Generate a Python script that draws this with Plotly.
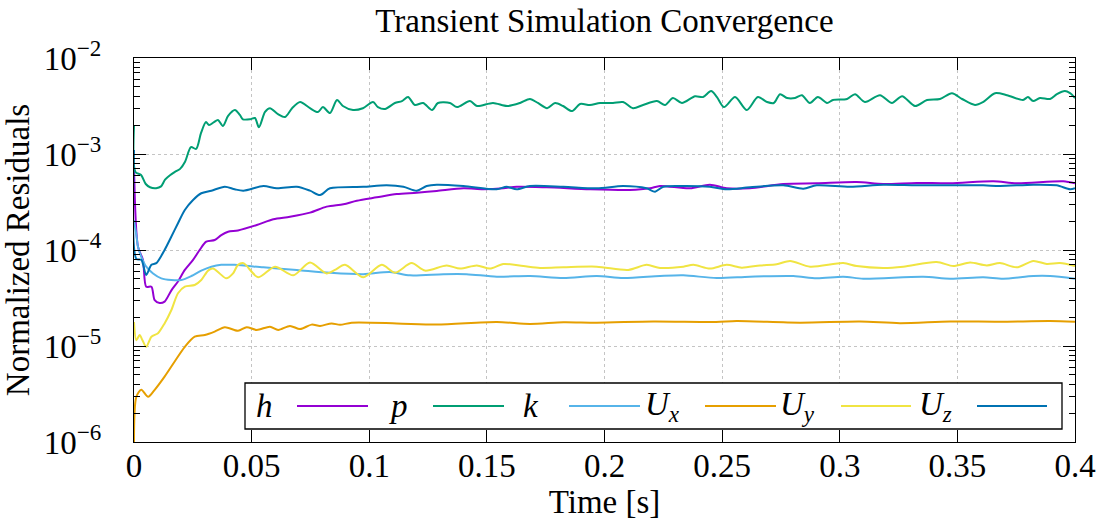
import plotly.graph_objects as go

# ---------------- data ----------------
t_h = [0, 0.0017, 0.0038, 0.0052, 0.0074, 0.0088, 0.0109, 0.013, 0.0159, 0.0187,
       0.0216, 0.0251, 0.0279, 0.0307, 0.0343, 0.0371, 0.04, 0.0442, 0.0522, 0.0592,
       0.0663, 0.0748, 0.0819, 0.089, 0.0947, 0.1032, 0.1117, 0.1202, 0.1287, 0.14,
       0.1484, 0.157, 0.1627, 0.1754, 0.1938, 0.2108, 0.2193, 0.2236, 0.2363, 0.2448,
       0.2519, 0.2618, 0.276, 0.2902, 0.3072, 0.3185, 0.3327, 0.3469, 0.3653, 0.3752,
       0.395, 0.4]
h_res = [7.5e-4, 1.08e-4, 7.9e-5, 4.15e-5, 4.15e-5, 3.0e-5, 2.8e-5, 2.9e-5, 3.8e-5, 4.7e-5,
         6.2e-5, 7.9e-5, 1.0e-4, 1.22e-4, 1.27e-4, 1.43e-4, 1.55e-4, 1.6e-4, 1.82e-4, 2.09e-4,
         2.22e-4, 2.45e-4, 2.83e-4, 3.0e-4, 3.26e-4, 3.54e-4, 3.83e-4, 3.95e-4, 4.12e-4, 4.39e-4,
         4.3e-4, 4.39e-4, 4.56e-4, 4.5e-4, 4.29e-4, 4.22e-4, 4.39e-4, 4.64e-4, 4.39e-4, 4.79e-4,
         4.39e-4, 4.39e-4, 4.87e-4, 4.95e-4, 5.1e-4, 4.87e-4, 5.0e-4, 4.95e-4, 5.2e-4, 4.95e-4,
         5.2e-4, 4.95e-4]

t_p = [0, 0.0006, 0.003, 0.005, 0.0068, 0.0094, 0.0115, 0.0132, 0.0153, 0.0174,
       0.0196, 0.0217, 0.0242, 0.0264, 0.0285, 0.0306, 0.0319, 0.034, 0.0357, 0.0378,
       0.04, 0.0429, 0.045, 0.0463, 0.0493, 0.0514, 0.0531, 0.0557, 0.0578, 0.0612,
       0.0642, 0.0672, 0.0706, 0.0748, 0.0782, 0.0803, 0.0833, 0.0863, 0.0888, 0.0931,
       0.0973, 0.1016, 0.1037, 0.1067, 0.1109, 0.1139, 0.1165, 0.1194, 0.1229, 0.1267,
       0.1292, 0.1343, 0.1373, 0.1428, 0.1458, 0.1526, 0.1586, 0.1641, 0.1683, 0.1717,
       0.1756, 0.179, 0.1824, 0.1862, 0.1896, 0.1938, 0.1981, 0.2036, 0.2079, 0.2121,
       0.2164, 0.2223, 0.2257, 0.2291, 0.2329, 0.2385, 0.2419, 0.2453, 0.2478, 0.2508,
       0.2555, 0.2605, 0.2652, 0.2691, 0.272, 0.2746, 0.2776, 0.281, 0.2839, 0.2873,
       0.2907, 0.2946, 0.2971, 0.3031, 0.3065, 0.3107, 0.3171, 0.3222, 0.3265, 0.332,
       0.3371, 0.3426, 0.3477, 0.352, 0.3575, 0.3609, 0.366, 0.3711, 0.3779, 0.38,
       0.3822, 0.3851, 0.3894, 0.3923, 0.3957, 0.3979, 0.4]
p_res = [1.96e-3, 6.5e-4, 6.05e-4, 4.87e-4, 4.5e-4, 4.4e-4, 4.6e-4, 5.4e-4, 6.0e-4, 6.5e-4,
         7.0e-4, 8.3e-4, 1.18e-3, 1.13e-3, 1.66e-3, 2.15e-3, 2.0e-3, 2.15e-3, 2.26e-3, 1.96e-3,
         2.49e-3, 2.87e-3, 2.55e-3, 2.3e-3, 2.3e-3, 2.37e-3, 1.9e-3, 2.74e-3, 3.0e-3, 2.6e-3,
         2.43e-3, 3.0e-3, 3.48e-3, 3.0e-3, 2.74e-3, 3.08e-3, 2.67e-3, 3.65e-3, 3.16e-3, 2.87e-3,
         3.0e-3, 3.48e-3, 3.08e-3, 2.94e-3, 3.4e-3, 3.56e-3, 3.92e-3, 3.24e-3, 3.4e-3, 2.87e-3,
         3.4e-3, 3.4e-3, 3.08e-3, 3.56e-3, 3.16e-3, 3.4e-3, 3.16e-3, 3.4e-3, 3.74e-3, 3.4e-3,
         3.0e-3, 3.4e-3, 3.16e-3, 2.8e-3, 3.32e-3, 3.24e-3, 3.4e-3, 3.4e-3, 3.48e-3, 3.0e-3,
         3.24e-3, 3.56e-3, 3.24e-3, 3.83e-3, 3.4e-3, 4.0e-3, 3.92e-3, 4.53e-3, 3.92e-3, 3.08e-3,
         3.92e-3, 2.87e-3, 3.92e-3, 3.48e-3, 3.4e-3, 4.2e-3, 3.83e-3, 3.83e-3, 4.1e-3, 3.4e-3,
         3.92e-3, 3.4e-3, 3.65e-3, 3.74e-3, 4.2e-3, 3.48e-3, 4.1e-3, 3.4e-3, 4.0e-3, 3.16e-3,
         3.65e-3, 3.74e-3, 4.3e-3, 3.74e-3, 3.24e-3, 3.48e-3, 4.3e-3, 4.1e-3, 3.65e-3, 3.92e-3,
         3.56e-3, 3.83e-3, 3.74e-3, 4.2e-3, 4.53e-3, 4.3e-3, 3.83e-3]

t_k = [0, 0.001, 0.0017, 0.0031, 0.0052, 0.0081, 0.0116, 0.0159, 0.0201, 0.0244,
       0.0286, 0.0329, 0.0371, 0.0428, 0.055, 0.0692, 0.0833, 0.0975, 0.1088, 0.1173,
       0.1315, 0.1414, 0.1542, 0.1683, 0.1825, 0.1967, 0.208, 0.2236, 0.2335, 0.2477,
       0.2618, 0.2803, 0.2902, 0.3015, 0.31, 0.3355, 0.3469, 0.361, 0.3695, 0.3823,
       0.3894, 0.4]
k_res = [2.05e-4, 1.43e-4, 1.08e-4, 8.5e-5, 6.7e-5, 5.7e-5, 5.07e-5, 4.87e-5, 4.87e-5, 5.36e-5,
         6.1e-5, 6.7e-5, 7.0e-5, 7.0e-5, 6.6e-5, 6.2e-5, 5.8e-5, 5.6e-5, 5.9e-5, 5.45e-5,
         5.6e-5, 5.6e-5, 5.27e-5, 5.36e-5, 5.1e-5, 5.36e-5, 5.1e-5, 5.36e-5, 5.45e-5, 5.1e-5,
         5.27e-5, 5.36e-5, 5.07e-5, 5.27e-5, 5.03e-5, 5.27e-5, 5.03e-5, 5.2e-5, 5.03e-5, 5.36e-5,
         5.36e-5, 5.03e-5]

t_ux = [0, 0.001, 0.0031, 0.006, 0.0088, 0.013, 0.0173, 0.0216, 0.0258, 0.0301,
        0.0343, 0.0386, 0.0442, 0.0479, 0.0522, 0.0578, 0.0613, 0.0663, 0.0706, 0.0755,
        0.0791, 0.084, 0.0876, 0.0925, 0.1117, 0.1287, 0.1542, 0.1683, 0.1825, 0.1967,
        0.2207, 0.2474, 0.2562, 0.2831, 0.3086, 0.3256, 0.3469, 0.3681, 0.3894, 0.4]
ux_res = [1.0e-6, 2.96e-6, 3.5e-6, 2.96e-6, 3.5e-6, 4.8e-6, 6.9e-6, 9.8e-6, 1.25e-5, 1.3e-5,
          1.41e-5, 1.57e-5, 1.44e-5, 1.57e-5, 1.47e-5, 1.59e-5, 1.47e-5, 1.62e-5, 1.5e-5, 1.67e-5,
          1.62e-5, 1.72e-5, 1.66e-5, 1.75e-5, 1.72e-5, 1.67e-5, 1.78e-5, 1.7e-5, 1.77e-5, 1.75e-5,
          1.8e-5, 1.78e-5, 1.82e-5, 1.75e-5, 1.8e-5, 1.73e-5, 1.8e-5, 1.79e-5, 1.82e-5, 1.79e-5]

t_uy = [0, 0.001, 0.0024, 0.0036, 0.0052, 0.0074, 0.0102, 0.013, 0.0159, 0.0187,
        0.0216, 0.0258, 0.0286, 0.0315, 0.0336, 0.0364, 0.0392, 0.0421, 0.0442, 0.0465,
        0.0528, 0.0599, 0.0677, 0.0748, 0.0819, 0.0854, 0.0897, 0.0975, 0.1053, 0.1109,
        0.118, 0.1237, 0.1329, 0.1386, 0.1457, 0.1513, 0.157, 0.1655, 0.1726, 0.1825,
        0.1967, 0.2101, 0.2179, 0.2236, 0.2335, 0.2378, 0.2448, 0.2519, 0.2583, 0.2661,
        0.2732, 0.2789, 0.2874, 0.3015, 0.3072, 0.3185, 0.327, 0.3412, 0.3483, 0.3554,
        0.3625, 0.3681, 0.3752, 0.3823, 0.388, 0.3936, 0.4]
uy_res = [1.78e-5, 1.15e-5, 1.3e-5, 1.15e-5, 9.8e-6, 1.25e-5, 1.36e-5, 1.72e-5, 2.37e-5, 3.54e-5,
          4.15e-5, 4.32e-5, 4.87e-5, 6.1e-5, 6.4e-5, 5.7e-5, 5.07e-5, 5.7e-5, 7.0e-5, 7.3e-5,
          5.2e-5, 6.7e-5, 5.45e-5, 7.4e-5, 5.7e-5, 6.2e-5, 7.0e-5, 5.2e-5, 7.0e-5, 5.8e-5,
          7.3e-5, 6.1e-5, 6.9e-5, 6.4e-5, 6.9e-5, 6.4e-5, 7.15e-5, 6.8e-5, 6.5e-5, 6.6e-5,
          6.7e-5, 6.2e-5, 7.0e-5, 6.5e-5, 6.7e-5, 7.0e-5, 6.4e-5, 7.0e-5, 6.55e-5, 6.9e-5,
          7.1e-5, 7.7e-5, 6.7e-5, 7.3e-5, 6.8e-5, 6.5e-5, 6.7e-5, 7.5e-5, 6.8e-5, 7.4e-5,
          6.9e-5, 7.3e-5, 6.6e-5, 7.7e-5, 7.15e-5, 7.3e-5, 6.8e-5]

t_uz = [0, 0.001, 0.0031, 0.0052, 0.0074, 0.0095, 0.013, 0.0159, 0.0187, 0.0216,
        0.0251, 0.0286, 0.0329, 0.0386, 0.0428, 0.0465, 0.055, 0.0607, 0.0692, 0.0748,
        0.0791, 0.0833, 0.0975, 0.1074, 0.1145, 0.1202, 0.1244, 0.1287, 0.14, 0.1542,
        0.1584, 0.1627, 0.1683, 0.1825, 0.1967, 0.208, 0.2179, 0.2215, 0.225, 0.2335,
        0.2448, 0.2519, 0.2618, 0.276, 0.2845, 0.2902, 0.3044, 0.3185, 0.3327, 0.3469,
        0.361, 0.3681, 0.3823, 0.3922, 0.3979, 0.4]
uz_res = [1.1e-3, 8.1e-5, 7.9e-5, 5.5e-5, 7.0e-5, 7.3e-5, 1.0e-4, 1.38e-4, 1.9e-4, 2.61e-4,
          3.32e-4, 3.9e-4, 4.15e-4, 4.56e-4, 4.29e-4, 4.15e-4, 4.64e-4, 4.39e-4, 4.56e-4, 4.15e-4,
          3.74e-4, 4.39e-4, 4.56e-4, 4.72e-4, 4.56e-4, 4.15e-4, 4.64e-4, 4.79e-4, 4.64e-4, 4.29e-4,
          4.56e-4, 4.29e-4, 4.64e-4, 4.56e-4, 4.39e-4, 4.64e-4, 4.39e-4, 4.05e-4, 4.56e-4, 4.64e-4,
          4.56e-4, 4.29e-4, 4.5e-4, 4.72e-4, 4.35e-4, 4.72e-4, 4.56e-4, 4.79e-4, 4.72e-4, 4.72e-4,
          4.72e-4, 4.64e-4, 4.79e-4, 4.72e-4, 4.29e-4, 4.39e-4]

series_names = ["<i>h</i>", "<i>p</i>", "<i>k</i>",
                "<i>U</i><sub><i>x</i></sub>", "<i>U</i><sub><i>y</i></sub>", "<i>U</i><sub><i>z</i></sub>"]
series_t = [t_h, t_p, t_k, t_ux, t_uy, t_uz]
series_v = [h_res, p_res, k_res, ux_res, uy_res, uz_res]
series_colors = ["#9400D3", "#009E73", "#56B4E9", "#E69F00", "#F0E442", "#0072B2"]

x_ticks = [0, 0.05, 0.1, 0.15, 0.2, 0.25, 0.3, 0.35, 0.4]
x_ticktext = ["0", "0.05", "0.1", "0.15", "0.2", "0.25", "0.3", "0.35", "0.4"]
y_ticks = [1e-6, 1e-5, 1e-4, 1e-3, 1e-2]
y_ticktext = ["10<sup>\u22126</sup>", "10<sup>\u22125</sup>", "10<sup>\u22124</sup>",
              "10<sup>\u22123</sup>", "10<sup>\u22122</sup>"]
y_minor = [m * 10.0 ** e for e in range(-6, -2) for m in range(2, 10)]

# ---------------- figure ----------------
FONT = "Liberation Serif"
FS = 33
W, H = 1099, 520
L, R, T, B = 134, 24, 58, 78
PW, PH = W - L - R, H - T - B

fig = go.Figure()
for name, tt, vv, col in zip(series_names, series_t, series_v, series_colors):
    fig.add_trace(go.Scatter(x=tt, y=vv, mode="lines", name=name,
                             line=dict(color=col, width=2, shape="spline", smoothing=0.8),
                             showlegend=False))

axis_common = dict(showline=True, linecolor="black", linewidth=1.3, mirror="ticks",
                   ticks="inside", tickcolor="black", tickwidth=1.2, ticklen=12,
                   showgrid=True, gridcolor="#c4c4c4", griddash="dot", gridwidth=1,
                   zeroline=False, automargin=False,
                   tickfont=dict(family=FONT, size=FS, color="black"))

fig.update_xaxes(range=[0, 0.4], tickmode="array", tickvals=x_ticks, ticktext=x_ticktext,
                 ticklabelstandoff=-6,
                 title=dict(text="Time [s]", font=dict(family=FONT, size=FS, color="black"),
                            standoff=0),
                 **axis_common)
fig.update_yaxes(type="log", range=[-6, -2], tickmode="array", tickvals=y_ticks,
                 ticktext=y_ticktext, ticklabelstandoff=25,
                 minor=dict(ticks="inside", ticklen=6, tickvals=y_minor, tickcolor="black",
                            tickwidth=1, showgrid=False),
                 title=dict(text="Normalized Residuals",
                            font=dict(family=FONT, size=FS, color="black"), standoff=4),
                 **axis_common)

# ---------------- legend (label followed by line sample, as in the reference) ----------------
def px_x(px):
    return (px - L) / PW

def px_y(py):
    return (H - B - py) / PH

legend_box = (245, 383, 1062, 429)
legend_line_y = 406
legend_text_cx = [264, 398, 531, 662, 797, 935]
legend_line_x = [(297, 368), (433, 504), (569, 640), (705, 776), (841, 911), (977, 1047)]

shapes = [dict(type="rect", xref="paper", yref="paper",
               x0=px_x(legend_box[0]), x1=px_x(legend_box[2]),
               y0=px_y(legend_box[3]), y1=px_y(legend_box[1]),
               line=dict(color="black", width=1.3), fillcolor="white", layer="above")]
annotations = []
for name, col, cx, (lx0, lx1) in zip(series_names, series_colors, legend_text_cx, legend_line_x):
    shapes.append(dict(type="line", xref="paper", yref="paper",
                       x0=px_x(lx0), x1=px_x(lx1), y0=px_y(legend_line_y), y1=px_y(legend_line_y),
                       line=dict(color=col, width=2.2), layer="above"))
    annotations.append(dict(text=name, xref="paper", yref="paper", x=px_x(cx), y=px_y(legend_line_y),
                            xanchor="center", yanchor="middle", showarrow=False,
                            font=dict(family=FONT, size=FS, color="black")))

fig.update_layout(
    width=W, height=H,
    margin=dict(l=L, r=R, t=T, b=B, pad=0),
    paper_bgcolor="white", plot_bgcolor="white",
    title=dict(text="Transient Simulation Convergence", x=px_x(604.5), xref="paper",
               xanchor="center", y=1 - 20 / H, yref="container", yanchor="middle",
               font=dict(family=FONT, size=FS, color="black"), automargin=False),
    shapes=shapes, annotations=annotations,
    showlegend=False,
)

fig.write_html("out.html", config={"displayModeBar": False},
               post_script="document.body.style.margin='0';document.body.style.overflow='hidden';")
